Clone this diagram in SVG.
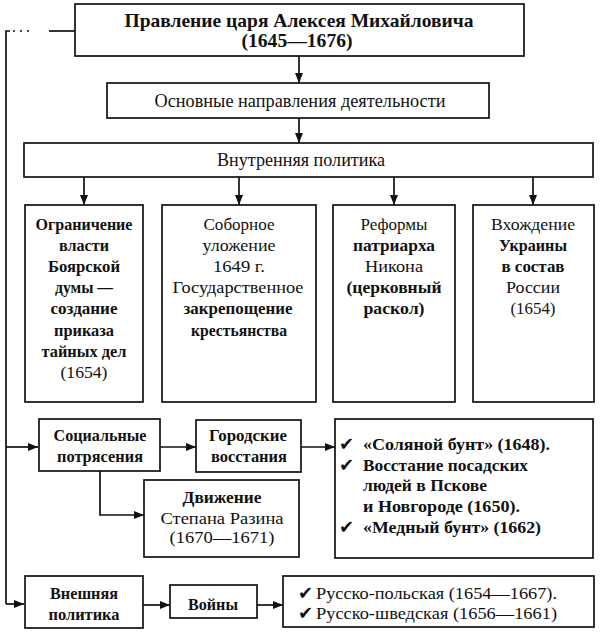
<svg xmlns="http://www.w3.org/2000/svg" width="602" height="635" viewBox="0 0 602 635">
<style>
  .box { fill: #fff; stroke: #111; stroke-width: 1.7; }
  text { font-family: 'Liberation Serif', 'Times New Roman', serif; font-size: 17px; fill: #111; text-anchor: middle; }
  .b { font-weight: bold; }
  .h { font-size: 19px; }
  .m { font-size: 18px; }
  .l { text-anchor: start; }
  .ck { font-family: 'DejaVu Sans', sans-serif; font-weight: bold; font-size: 18px; }
  .c { fill: none; stroke: #111; stroke-width: 1.7; }
  .arr { marker-end: url(#ah); }
</style>
<defs>
  <marker id="ah" markerUnits="userSpaceOnUse" markerWidth="10" markerHeight="8" refX="10" refY="4" orient="auto">
    <path d="M0,0 L10,4 L0,8 z" fill="#111"/>
  </marker>
</defs>
<rect width="602" height="635" fill="#fff"/>

<g id="connectors">
  <path class="c" d="M6,604 V31 H10"/>
  <path class="c" d="M13,31 H34" stroke-dasharray="2 5"/>
  <path class="c" d="M49,31 H75"/>
  <path class="c arr" d="M299,56 V83"/>
  <path class="c arr" d="M299,118 V143"/>
  <path class="c arr" d="M84,177 V205"/>
  <path class="c arr" d="M239,177 V205"/>
  <path class="c arr" d="M394,177 V205"/>
  <path class="c arr" d="M533,177 V205"/>
  <path class="c arr" d="M6,447 H38"/>
  <path class="c arr" d="M160,447 H196"/>
  <path class="c arr" d="M301,447 H335"/>
  <path class="c arr" d="M100,471 V515 H144"/>
  <path class="c arr" d="M6,604 H24"/>
  <path class="c arr" d="M143,605 H170"/>
  <path class="c arr" d="M257,605 H283"/>
</g>

<g id="title">
  <rect class="box" x="75" y="4" width="449" height="52"/>
  <text class="b h" x="299" y="27" textLength="349" lengthAdjust="spacingAndGlyphs">Правление царя Алексея Михайловича</text>
  <text class="b h" x="297" y="47" textLength="111" lengthAdjust="spacingAndGlyphs">(1645—1676)</text>
</g>

<g id="main-directions">
  <rect class="box" x="107" y="83" width="382" height="35"/>
  <text class="m" x="300" y="107" textLength="291" lengthAdjust="spacingAndGlyphs">Основные направления деятельности</text>
</g>

<g id="internal-policy">
  <rect class="box" x="24" y="143" width="569" height="34"/>
  <text class="m" x="301" y="166" textLength="168" lengthAdjust="spacingAndGlyphs">Внутренняя политика</text>
</g>

<g id="boyar-duma">
  <rect class="box" x="25" y="205" width="118" height="197"/>
  <text class="b" x="84" y="230" textLength="97" lengthAdjust="spacingAndGlyphs">Ограничение</text>
  <text class="b" x="84" y="251" textLength="50" lengthAdjust="spacingAndGlyphs">власти</text>
  <text class="b" x="84" y="272" textLength="72" lengthAdjust="spacingAndGlyphs">Боярской</text>
  <text class="b" x="84" y="293" textLength="58" lengthAdjust="spacingAndGlyphs">думы —</text>
  <text class="b" x="84" y="314" textLength="67" lengthAdjust="spacingAndGlyphs">создание</text>
  <text class="b" x="84" y="336" textLength="60" lengthAdjust="spacingAndGlyphs">приказа</text>
  <text class="b" x="84" y="357" textLength="85" lengthAdjust="spacingAndGlyphs">тайных дел</text>
  <text x="84" y="378" textLength="47" lengthAdjust="spacingAndGlyphs">(1654)</text>
</g>

<g id="sobornoe-ulozhenie">
  <rect class="box" x="162" y="205" width="154" height="197"/>
  <text x="239" y="230" textLength="71" lengthAdjust="spacingAndGlyphs">Соборное</text>
  <text x="239" y="251" textLength="73" lengthAdjust="spacingAndGlyphs">уложение</text>
  <text x="239" y="272" textLength="52" lengthAdjust="spacingAndGlyphs">1649 г.</text>
  <text x="238" y="293" textLength="131" lengthAdjust="spacingAndGlyphs">Государственное</text>
  <text class="b" x="238" y="314" textLength="109" lengthAdjust="spacingAndGlyphs">закрепощение</text>
  <text class="b" x="239" y="336" textLength="96" lengthAdjust="spacingAndGlyphs">крестьянства</text>
</g>

<g id="nikon-reforms">
  <rect class="box" x="333" y="205" width="122" height="197"/>
  <text x="394" y="230" textLength="67" lengthAdjust="spacingAndGlyphs">Реформы</text>
  <text class="b" x="394" y="251" textLength="82" lengthAdjust="spacingAndGlyphs">патриарха</text>
  <text x="394" y="272" textLength="58" lengthAdjust="spacingAndGlyphs">Никона</text>
  <text class="b" x="394" y="293" textLength="95" lengthAdjust="spacingAndGlyphs">(церковный</text>
  <text class="b" x="394" y="314" textLength="61" lengthAdjust="spacingAndGlyphs">раскол)</text>
</g>

<g id="ukraine">
  <rect class="box" x="473" y="205" width="121" height="197"/>
  <text x="533" y="230" textLength="84" lengthAdjust="spacingAndGlyphs">Вхождение</text>
  <text class="b" x="533" y="251" textLength="68" lengthAdjust="spacingAndGlyphs">Украины</text>
  <text class="b" x="533" y="272" textLength="63" lengthAdjust="spacingAndGlyphs">в состав</text>
  <text x="533" y="293" textLength="54" lengthAdjust="spacingAndGlyphs">России</text>
  <text x="533" y="314" textLength="45" lengthAdjust="spacingAndGlyphs">(1654)</text>
</g>

<g id="social-unrest">
  <rect class="box" x="39" y="419" width="121" height="52"/>
  <text class="b" x="100" y="441" textLength="93" lengthAdjust="spacingAndGlyphs">Социальные</text>
  <text class="b" x="100" y="462" textLength="86" lengthAdjust="spacingAndGlyphs">потрясения</text>
</g>

<g id="urban-uprisings">
  <rect class="box" x="196" y="420" width="105" height="52"/>
  <text class="b" x="248" y="441" textLength="78" lengthAdjust="spacingAndGlyphs">Городские</text>
  <text class="b" x="249" y="462" textLength="76" lengthAdjust="spacingAndGlyphs">восстания</text>
</g>

<g id="uprisings-list">
  <rect class="box" x="335" y="419" width="258" height="139"/>
  <text class="b l" y="450"><tspan class="ck" x="339">✔</tspan><tspan x="363" textLength="187" lengthAdjust="spacingAndGlyphs">«Соляной бунт» (1648).</tspan></text>
  <text class="b l" y="471"><tspan class="ck" x="339">✔</tspan><tspan x="363" textLength="165" lengthAdjust="spacingAndGlyphs">Восстание посадских</tspan></text>
  <text class="b l" x="363" y="491" textLength="124" lengthAdjust="spacingAndGlyphs">людей в Пскове</text>
  <text class="b l" x="363" y="512" textLength="157" lengthAdjust="spacingAndGlyphs">и Новгороде (1650).</text>
  <text class="b l" y="533"><tspan class="ck" x="339">✔</tspan><tspan x="363" textLength="178" lengthAdjust="spacingAndGlyphs">«Медный бунт» (1662)</tspan></text>
</g>

<g id="razin">
  <rect class="box" x="144" y="480" width="155" height="77"/>
  <text class="b" x="222" y="503" textLength="79" lengthAdjust="spacingAndGlyphs">Движение</text>
  <text x="222" y="524" textLength="123" lengthAdjust="spacingAndGlyphs">Степана Разина</text>
  <text x="222" y="543" textLength="105" lengthAdjust="spacingAndGlyphs">(1670—1671)</text>
</g>

<g id="foreign-policy">
  <rect class="box" x="25" y="576" width="118" height="52"/>
  <text class="b" x="84" y="599" textLength="68" lengthAdjust="spacingAndGlyphs">Внешняя</text>
  <text class="b" x="84" y="620" textLength="71" lengthAdjust="spacingAndGlyphs">политика</text>
</g>

<g id="wars">
  <rect class="box" x="170" y="585" width="87" height="33"/>
  <text class="b" x="213" y="610" textLength="50" lengthAdjust="spacingAndGlyphs">Войны</text>
</g>

<g id="wars-list">
  <rect class="box" x="283" y="576" width="311" height="51"/>
  <text class="l" y="599"><tspan class="ck" x="298">✔</tspan><tspan x="316" textLength="241" lengthAdjust="spacingAndGlyphs">Русско-польская (1654—1667).</tspan></text>
  <text class="l" y="619"><tspan class="ck" x="298">✔</tspan><tspan x="316" textLength="241" lengthAdjust="spacingAndGlyphs">Русско-шведская (1656—1661)</tspan></text>
</g>
</svg>
